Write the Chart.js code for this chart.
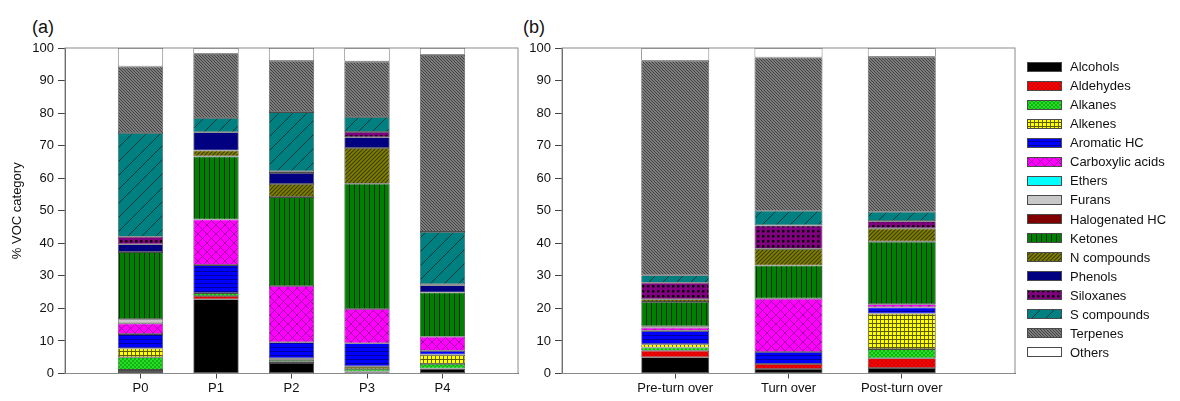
<!DOCTYPE html>
<html>
<head>
<meta charset="utf-8">
<script src="https://cdn.jsdelivr.net/npm/chart.js@4.4.1/dist/chart.umd.min.js"></script>
<style>
  body { margin: 0; width: 1180px; height: 401px; background: #fff; overflow: hidden; position: relative;
         font-family: "Liberation Sans", Arial, sans-serif; }
  .panel { position: absolute; top: 0; width: 530px; height: 401px; }
  #wrapA { left: 0; }
  #wrapB { left: 497px; }
  .tag { position: absolute; font-size: 18px; color: #111; top: 17px; }
  #legend { position: absolute; left: 1027px; top: 57px; }
  .row { display: flex; align-items: center; height: 19.07px; font-size: 13px; color: #111; white-space: nowrap; }
  .row canvas { margin-right: 8px; }
</style>
</head>
<body>
<div class="tag" style="left:32px">(a)</div>
<div class="tag" style="left:523px">(b)</div>
<div class="panel" id="wrapA"><canvas id="chartA"></canvas></div>
<div class="panel" id="wrapB"><canvas id="chartB"></canvas></div>
<div id="legend"></div>

<script>
'use strict';

// ********** DATA **********

const categories = ['Alcohols', 'Aldehydes', 'Alkanes', 'Alkenes', 'Aromatic HC', 'Carboxylic acids',
  'Ethers', 'Furans', 'Halogenated HC', 'Ketones', 'N compounds', 'Phenols', 'Siloxanes',
  'S compounds', 'Terpenes', 'Others'];

const samplesA = ['P0', 'P1', 'P2', 'P3', 'P4'];
const samplesB = ['Pre-turn over', 'Turn over', 'Post-turn over'];

// % per category, same order as categories
const P0 = [0.8, 0.3, 3.9, 2.7, 4.4, 3.3, 0, 1.3, 0, 20.6, 0, 2.4, 2.3, 31.9, 20.4, 5.7];
const P1 = [22.8, 1.0, 0.9, 0, 8.6, 14.0, 0, 0, 0, 19.4, 1.8, 5.6, 0, 4.4, 19.7, 1.8];
const P2 = [3.2, 0.4, 0.6, 0.5, 4.9, 17.3, 0, 0, 0, 27.3, 4.0, 3.4, 0.5, 18.2, 15.8, 3.9];
const P3 = [0.4, 0.2, 0.8, 0.8, 7.1, 10.5, 0, 0, 0, 38.5, 11.0, 3.3, 1.6, 4.6, 17.0, 4.2];
const P4 = [1.5, 0, 1.4, 2.9, 1.2, 4.3, 0, 0, 0, 13.6, 0, 2.2, 0.3, 16.1, 54.4, 2.1];

const preTurn = [5.0, 2.0, 1.0, 1.0, 4.1, 1.0, 0, 0.4, 0, 7.5, 0.8, 0, 5.1, 2.3, 65.9, 3.9];
const turnOver = [1.4, 1.5, 0, 0, 3.7, 16.4, 0, 0, 0, 10.2, 5.1, 0, 7.2, 4.5, 47.1, 2.9];
const postTurn = [1.7, 3.0, 2.8, 10.9, 1.9, 1.0, 0, 0, 0, 19.2, 4.1, 0, 2.2, 2.9, 47.6, 2.7];

const yTicks = [0, 10, 20, 30, 40, 50, 60, 70, 80, 90, 100];

// ********** PATTERNS **********

function makePattern(bg, size, draw) {
  let c = document.createElement('canvas');
  c.width = size; c.height = size;
  let g = c.getContext('2d');
  g.fillStyle = bg;
  g.fillRect(0, 0, size, size);
  if (draw) draw(g, size);
  return g.createPattern(c, 'repeat');
}

function dots(color, r, stagger) {
  return function(g, s) {
    g.fillStyle = color;
    g.beginPath(); g.arc(s / 4, s / 4, r, 0, Math.PI * 2); g.fill();
    if (stagger) { g.beginPath(); g.arc(s * 3 / 4, s * 3 / 4, r, 0, Math.PI * 2); g.fill(); }
  };
}

function lines(color, w, dir) {
  return function(g, s) {
    g.strokeStyle = color; g.lineWidth = w;
    g.beginPath();
    if (dir === 'h' || dir === 'grid') { g.moveTo(0, s - 0.5); g.lineTo(s, s - 0.5); }
    if (dir === 'v' || dir === 'grid') { g.moveTo(s - 0.5, 0); g.lineTo(s - 0.5, s); }
    if (dir === '/' || dir === 'x') {
      g.moveTo(0, s); g.lineTo(s, 0);
      g.moveTo(-1, 1); g.lineTo(1, -1);
      g.moveTo(s - 1, s + 1); g.lineTo(s + 1, s - 1);
    }
    if (dir === '\\' || dir === 'x') {
      g.moveTo(0, 0); g.lineTo(s, s);
      g.moveTo(-1, s - 1); g.lineTo(1, s + 1);
      g.moveTo(s - 1, -1); g.lineTo(s + 1, 1);
    }
    g.stroke();
  };
}

const fills = [
  '#000000',
  makePattern('#ff0000', 4, dots('#7a0000', 0.7, true)),
  makePattern('#22e022', 4, dots('#0a5a0a', 0.7, true)),
  makePattern('#ffff00', 4, lines('#5c5c00', 1, 'grid')),
  makePattern('#0000ff', 4, lines('#00009a', 1, 'h')),
  makePattern('#ff00ff', 9, lines('#8a008a', 0.8, 'x')),
  '#00ffff',
  '#c8c8c8',
  '#800000',
  makePattern('#008000', 5, lines('#002a00', 1, 'v')),
  makePattern('#808000', 4, lines('#3a3a00', 1.1, '/')),
  '#000080',
  makePattern('#800080', 5, dots('#000000', 1.3, false)),
  makePattern('#008080', 14, lines('#003a3a', 1, '/')),
  makePattern('#7c7c7c', 3, lines('#3c3c3c', 0.9, '\\')),
  '#ffffff'
];

// ********** CHARTS **********

// frame round the plot area
const framePlugin = {
  id: 'frame',
  afterDatasetsDraw(chart) {
    let a = chart.chartArea, ctx = chart.ctx;
    ctx.save();
    ctx.strokeStyle = '#8a8a8a';
    ctx.lineWidth = 1;
    ctx.strokeRect(a.left, a.top, a.right - a.left, a.bottom - a.top);
    ctx.restore();
  }
};

function buildChart(canvasId, samples, series, yTitle) {
  let labels = [''].concat(samples, ['']);
  let datasets = categories.map(function(name, k) {
    return {
      label: name,
      data: [null].concat(series.map(s => s[k]), [null]),
      backgroundColor: fills[k],
      borderColor: '#4a4a4a',
      borderWidth: 0.8,
      borderSkipped: false,
      barPercentage: 0.6,
      categoryPercentage: 1
    };
  });

  return new Chart(document.getElementById(canvasId), {
    type: 'bar',
    data: { labels: labels, datasets: datasets },
    options: {
      responsive: true,
      maintainAspectRatio: false,
      animation: false,
      layout: { padding: { left: 0, right: 12, top: 48, bottom: 0 } },
      plugins: { legend: { display: false }, tooltip: { enabled: false } },
      scales: {
        x: {
          stacked: true,
          offset: false,
          afterFit: function(scale) { scale.height = 27.5; },
          grid: {
            offset: false,
            drawOnChartArea: false, drawTicks: true, tickLength: 5,
            tickColor: ctx => (ctx.tick && ctx.tick.label) ? '#444' : 'rgba(0,0,0,0)'
          },
          border: { color: '#555' },
          ticks: { color: '#111', font: { family: 'Liberation Sans', size: 13 }, padding: 2, maxRotation: 0, autoSkip: false }
        },
        y: {
          stacked: true,
          min: 0,
          max: 100,
          afterFit: function(scale) { scale.width = 65; },
          afterBuildTicks: function(scale) { scale.ticks = yTicks.map(v => ({ value: v })); },
          grid: { drawOnChartArea: false, drawTicks: true, tickLength: 7, tickColor: '#444' },
          border: { color: '#555' },
          ticks: { color: '#111', font: { family: 'Liberation Sans', size: 13 }, padding: 4 },
          title: {
            display: !!yTitle, text: yTitle || '', color: '#111',
            font: { family: 'Liberation Sans', size: 13 }, padding: { top: 10, bottom: 0 }
          }
        }
      }
    },
    plugins: [framePlugin]
  });
}

buildChart('chartA', samplesA, [P0, P1, P2, P3, P4], '% VOC category');
buildChart('chartB', samplesB, [preTurn, turnOver, postTurn], null);

// ********** LEGEND **********

let legendBox = document.getElementById('legend');
categories.forEach(function(name, k) {
  let row = document.createElement('div');
  row.className = 'row';
  let sw = document.createElement('canvas');
  sw.width = 35; sw.height = 10;
  let g = sw.getContext('2d');
  g.fillStyle = fills[k];
  g.fillRect(0, 0, 35, 10);
  g.strokeStyle = '#4a4a4a';
  g.lineWidth = 1;
  g.strokeRect(0.5, 0.5, 34, 9);
  let txt = document.createElement('span');
  txt.textContent = name;
  row.appendChild(sw);
  row.appendChild(txt);
  legendBox.appendChild(row);
});
</script>
</body>
</html>
